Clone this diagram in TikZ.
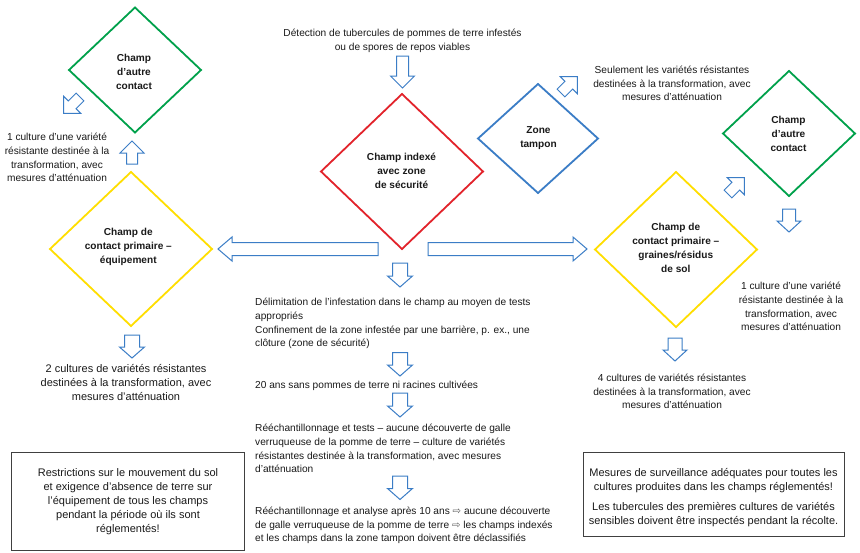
\documentclass[tikz,border=0pt]{standalone}
\usepackage{fontspec}
\setmainfont{Liberation Sans}
\newfontfamily\dejavu{DejaVu Sans}
\usetikzlibrary{shapes.geometric}
\definecolor{cgreen}{HTML}{00A14B}
\definecolor{cred}{HTML}{E2232B}
\definecolor{cblue}{HTML}{3B7DC6}
\definecolor{cyellow}{HTML}{FFDE00}
\definecolor{cbox}{HTML}{404040}
\definecolor{ctext}{HTML}{1A1A1A}
\newcommand{\hollowarr}{{\dejavu\textcolor{black!65}{⇨}}}
\tikzset{
  txt/.style={font=\fontsize{10.15}{13.8}\selectfont, inner sep=0pt, align=center, text=ctext},
  bigtxt/.style={txt, font=\fontsize{11}{13.9}\selectfont},
  ltxt/.style={txt, align=left, anchor=west},
  dtxt/.style={txt, font=\fontsize{10.1}{14}\selectfont\bfseries},
  dia/.style={shape=diamond, line width=1.8pt, inner sep=0pt, outer sep=0pt},
  arrowline/.style={draw=cblue, line width=1pt, fill=white, line join=miter},
  notebox/.style={draw=cbox, line width=1pt},
  pics/barrow/.style args={#1/#2/#3/#4}{code={
    \path[arrowline] (0,-#2) -- ({#1-#4},-#2) -- ({#1-#4},-#3) -- (#1,0)
      -- ({#1-#4},#3) -- ({#1-#4},#2) -- (0,#2) -- cycle;}}
}
\begin{document}
\begin{tikzpicture}[x=1pt,y=-1pt]
\useasboundingbox (0,0) rectangle (860,552);
\fill[white] (0,0) rectangle (860,552);

% diamonds
\node[dia, draw=cgreen, minimum width=132pt, minimum height=125pt] (g1) at (135,70) {};
\node[dia, draw=cred, minimum width=162pt, minimum height=155pt] (red) at (402,171.5) {};
\node[dia, draw=cblue, minimum width=120pt, minimum height=109pt] (zt) at (538,138.5) {};
\node[dia, draw=cgreen, minimum width=132pt, minimum height=125pt] (g2) at (789,133.5) {};
\node[dia, draw=cyellow, minimum width=162pt, minimum height=154pt] (y1) at (131,249) {};
\node[dia, draw=cyellow, minimum width=162pt, minimum height=155pt] (y2) at (676,249.5) {};

% diamond texts
\node[dtxt] (g1t) at (134,71.5) {Champ\\d’autre\\contact};
\node[dtxt] (redt) at (401.5,171) {Champ indexé\\avec zone\\de sécurité};
\node[dtxt] (ztt) at (538.5,138.5) {Zone\\tampon};
\node[dtxt] (g2t) at (788.5,134) {Champ\\d’autre\\contact};
\node[dtxt] (y1t) at (128.3,247) {Champ de\\contact primaire –\\équipement};
\node[dtxt] (y2t) at (675.8,247.5) {Champ de\\contact primaire –\\graines/résidus\\de sol};

% plain texts
\node[txt] (det) at (402.5,40.5) {Détection de tubercules de pommes de terre infestés\\ou de spores de repos viables};
\node[txt] (l1) at (57,157.5) {1 culture d’une variété\\résistante destinée à la\\transformation, avec\\mesures d’atténuation};
\node[bigtxt] (l2) at (126,382.5) {2 cultures de variétés résistantes\\destinées à la transformation, avec\\mesures d’atténuation};
\node[txt] (seul) at (672,83.5) {Seulement les variétés résistantes\\destinées à la transformation, avec\\mesures d’atténuation};
\node[txt] (r1) at (791,306.5) {1 culture d’une variété\\résistante destinée à la\\transformation, avec\\mesures d’atténuation};
\node[txt] (r4) at (672,391.5) {4 cultures de variétés résistantes\\destinées à la transformation, avec\\mesures d’atténuation};

% central column
\node[ltxt] (c1) at (255,323.5) {Délimitation de l'infestation dans le champ au moyen de tests\\appropriés\\Confinement de la zone infestée par une barrière, p. ex., une\\clôture (zone de sécurité)};
\node[ltxt] (c2) at (255,385.5) {20 ans sans pommes de terre ni racines cultivées};
\node[ltxt] (c3) at (255,448.5) {Rééchantillonnage et tests – aucune découverte de galle\\verruqueuse de la pomme de terre – culture de variétés\\résistantes destinée à la transformation, avec mesures\\d’atténuation};
\node[ltxt] (c4) at (255,525.5) {Rééchantillonnage et analyse après 10 ans \hollowarr\ aucune découverte\\de galle verruqueuse de la pomme de terre \hollowarr\ les champs indexés\\et les champs dans la zone tampon doivent être déclassifiés};

% note boxes
\draw[notebox] (11.7,452.7) rectangle (244,550.5);
\node[bigtxt] (bl) at (128,501.5) {Restrictions sur le mouvement du sol\\et exigence d’absence de terre sur\\l’équipement de tous les champs\\pendant la période où ils sont\\réglementés!};
\draw[notebox] (583,452.7) rectangle (844,536.7);
\node[bigtxt] (br) at (713.5,497.5) {Mesures de surveillance adéquates pour toutes les\\cultures produites dans les champs réglementés!\\[6pt]Les tubercules des premières cultures de variétés\\sensibles doivent être inspectés pendant la récolte.};

% block arrows
\pic[rotate=-90] at (402.5,56) {barrow=32/6/12/12};
\pic[rotate=-90] at (400,263) {barrow=24/7.5/12.5/11};
\pic[rotate=-90] at (400,352.5) {barrow=23.5/7.5/12.5/11};
\pic[rotate=-90] at (400,393) {barrow=24/7.5/12.5/11};
\pic[rotate=-90] at (400,476) {barrow=23.5/7.5/12.5/11};
\pic[rotate=180] at (378,249) {barrow=160/6.5/12/14};
\pic at (428,249) {barrow=159/6.5/12/14};
\pic[rotate=90] at (132,164) {barrow=23/5.5/12/12};
\pic[rotate=-90] at (132,335) {barrow=23/7.5/12.5/11};
\pic[rotate=-90] at (789,209) {barrow=23/6.5/12/11};
\pic[rotate=-90] at (675,338) {barrow=23/7/12/11};
\pic[rotate=225] at (80,97) {barrow=23/5.5/12/12};
\pic[rotate=45] at (561,93) {barrow=23/5.5/12/12};
\pic[rotate=45] at (728,194) {barrow=23/5.5/12/12};
\end{tikzpicture}
\end{document}
